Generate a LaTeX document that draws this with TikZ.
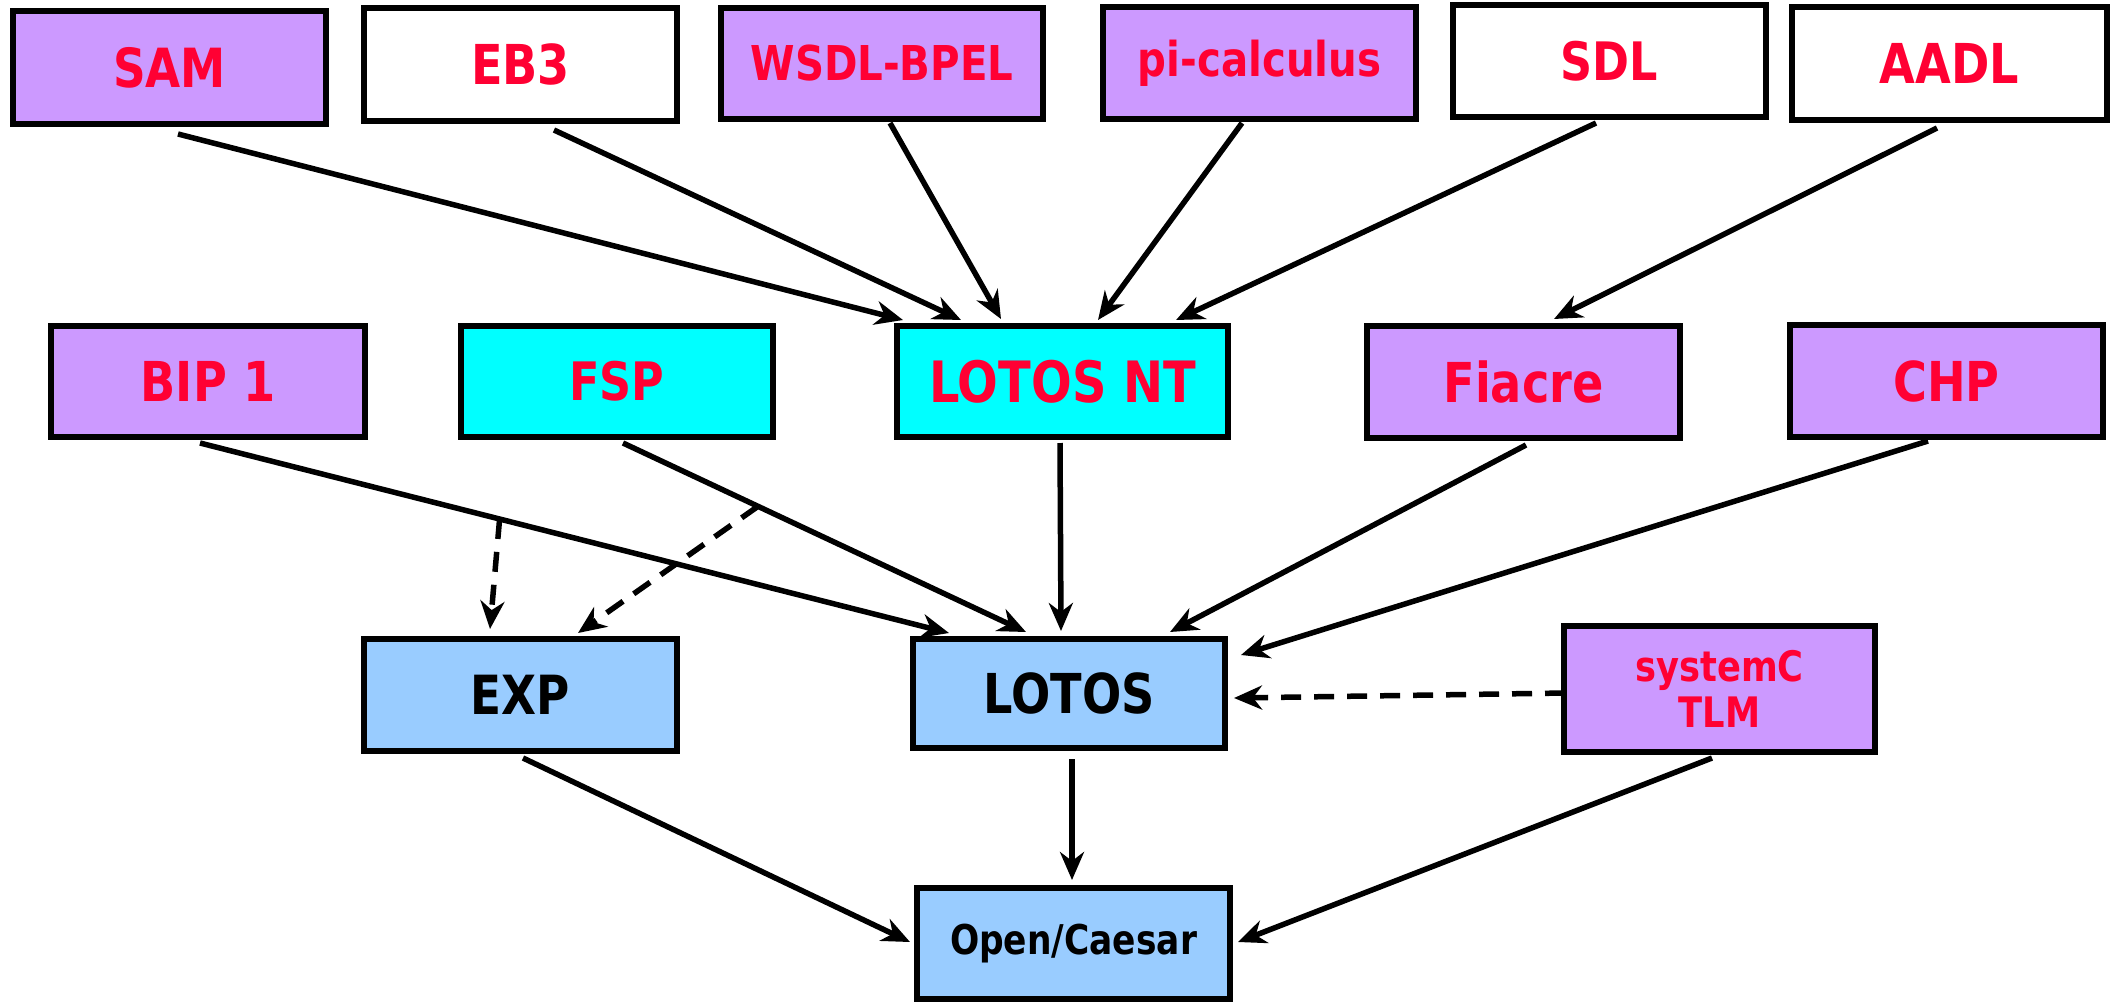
\documentclass[tikz,border=0pt]{standalone}
\usepackage{fontspec}
\setmainfont{DejaVu Sans}[FakeStretch=0.84]
\usetikzlibrary{arrows.meta,calc}
\definecolor{lilac}{HTML}{CC99FF}
\definecolor{cyanbox}{HTML}{00FFFF}
\definecolor{bluebox}{HTML}{99CCFF}
\definecolor{labred}{HTML}{FF0033}
\tikzset{
  box/.style={draw=black, line width=6pt, inner sep=0pt, font=\bfseries},
  purple/.style={box, fill=lilac, text=labred},
  plain/.style={box, fill=white, text=labred},
  cyanb/.style={box, fill=cyanbox, text=labred},
  blueb/.style={box, fill=bluebox, text=black},
  conn/.style={line width=5.5pt, -{Stealth[length=28pt,width=24pt,inset=9pt]}},
  dconn/.style={conn, dash pattern=on 20pt off 13pt},
}
\newcommand{\fs}[1]{\fontsize{#1}{#1}\selectfont}
\begin{document}
\begin{tikzpicture}[x=1pt,y=-1pt]
\useasboundingbox (0,0) rectangle (2114,1002);
% top row
\node[purple, minimum width=313, minimum height=113] (SAM) at (169.5,67.5) {\fs{54}SAM};
\node[plain, minimum width=313, minimum height=113] (EB3) at (520.5,64.5) {\fs{55}EB3};
\node[purple, minimum width=322, minimum height=111] (WSDL) at (882,63.5) {\fs{48}WSDL-BPEL};
\node[purple, minimum width=313, minimum height=112] (PI) at (1259.5,63) {\fs{48}pi-calculus};
\node[plain, minimum width=313, minimum height=112] (SDL) at (1609.5,61) {\fs{53}SDL};
\node[plain, minimum width=315, minimum height=113] (AADL) at (1949.5,63.5) {\fs{55}AADL};
% second row
\node[purple, minimum width=314, minimum height=111] (BIP) at (208,381.5) {\fs{55}BIP 1};
\node[cyanb, minimum width=312, minimum height=111] (FSP) at (617,381.5) {\fs{53}FSP};
\node[cyanb, minimum width=331, minimum height=111] (NT) at (1062.5,381.5) {\fs{57}LOTOS NT};
\node[purple, minimum width=313, minimum height=112] (FIA) at (1523.5,382) {\fs{55}Fiacre};
\node[purple, minimum width=313, minimum height=112] (CHP) at (1946.5,381) {\fs{55}CHP};
% third row
\node[blueb, minimum width=313, minimum height=112] (EXP) at (520.5,695) {\fs{54}EXP};
\node[blueb, minimum width=312, minimum height=109] (LOT) at (1069,693.5) {\fs{55}LOTOS};
\node[purple, minimum width=311, minimum height=126, align=center, font=\bfseries\fontsize{42}{46}\selectfont] (SYS) at (1719.5,689) {systemC\\TLM};
% bottom
\node[blueb, minimum width=313, minimum height=111] (OPEN) at (1073.5,943.5) {\fs{41}Open/Caesar};
% connectors into LOTOS NT
\draw[conn] ([shift={(8.5,7)}]SAM.south) -- ([shift={(9,-3)}]NT.north west);
\draw[conn] ([shift={(33.5,6)}]EB3.south) -- ([shift={(67,-3)}]NT.north west);
\draw[conn] ([shift={(8,1)}]WSDL.south) -- ([shift={(107,-4)}]NT.north west);
\draw[conn] ([shift={(-17.5,1)}]PI.south) -- ([shift={(204,-3)}]NT.north west);
\draw[conn] ([shift={(-13.5,3)}]SDL.south) -- ([shift={(-55,-3)}]NT.north east);
\draw[conn] ([shift={(-12.5,5)}]AADL.south) -- ([shift={(30.5,-4)}]FIA.north);
% into LOTOS
\coordinate (b1) at ([shift={(-8,3)}]BIP.south);
\coordinate (b2) at ([shift={(39,-3)}]LOT.north west);
\coordinate (f1) at ([shift={(6,3)}]FSP.south);
\coordinate (f2) at ([shift={(-43,-4)}]LOT.north);
\draw[conn] (b1) -- (b2);
\draw[conn] (f1) -- (f2);
\draw[conn] ([shift={(-2.5,3)}]NT.south) -- ([shift={(-8,-5)}]LOT.north);
\draw[conn] ([shift={(2.5,4)}]FIA.south) -- ([shift={(-58,-4)}]LOT.north east);
\draw[conn] ([shift={(-18.5,1)}]CHP.south) -- ([shift={(13,19)}]LOT.north east);
\draw[dconn] ([shift={(4,4)}]SYS.west) -- ([shift={(6,4.5)}]LOT.east);
% dashed into EXP
\coordinate (d1) at ($(b1)!0.40!(b2)$);
\coordinate (d2) at ($(f1)!0.335!(f2)$);
\draw[dconn] (d1) -- ([shift={(-30.5,-7)}]EXP.north);
\draw[dconn] (d2) -- ([shift={(57.5,-3)}]EXP.north);
% into Open/Caesar
\draw[conn] ([shift={(3,8)}]LOT.south) -- ([shift={(-1.5,-5)}]OPEN.north);
\draw[conn] ([shift={(2.5,4)}]EXP.south) -- ([shift={(-4,-1.5)}]OPEN.west);
\draw[conn] ([shift={(-7.5,3)}]SYS.south) -- ([shift={(5,-1.5)}]OPEN.east);
\end{tikzpicture}
\end{document}
